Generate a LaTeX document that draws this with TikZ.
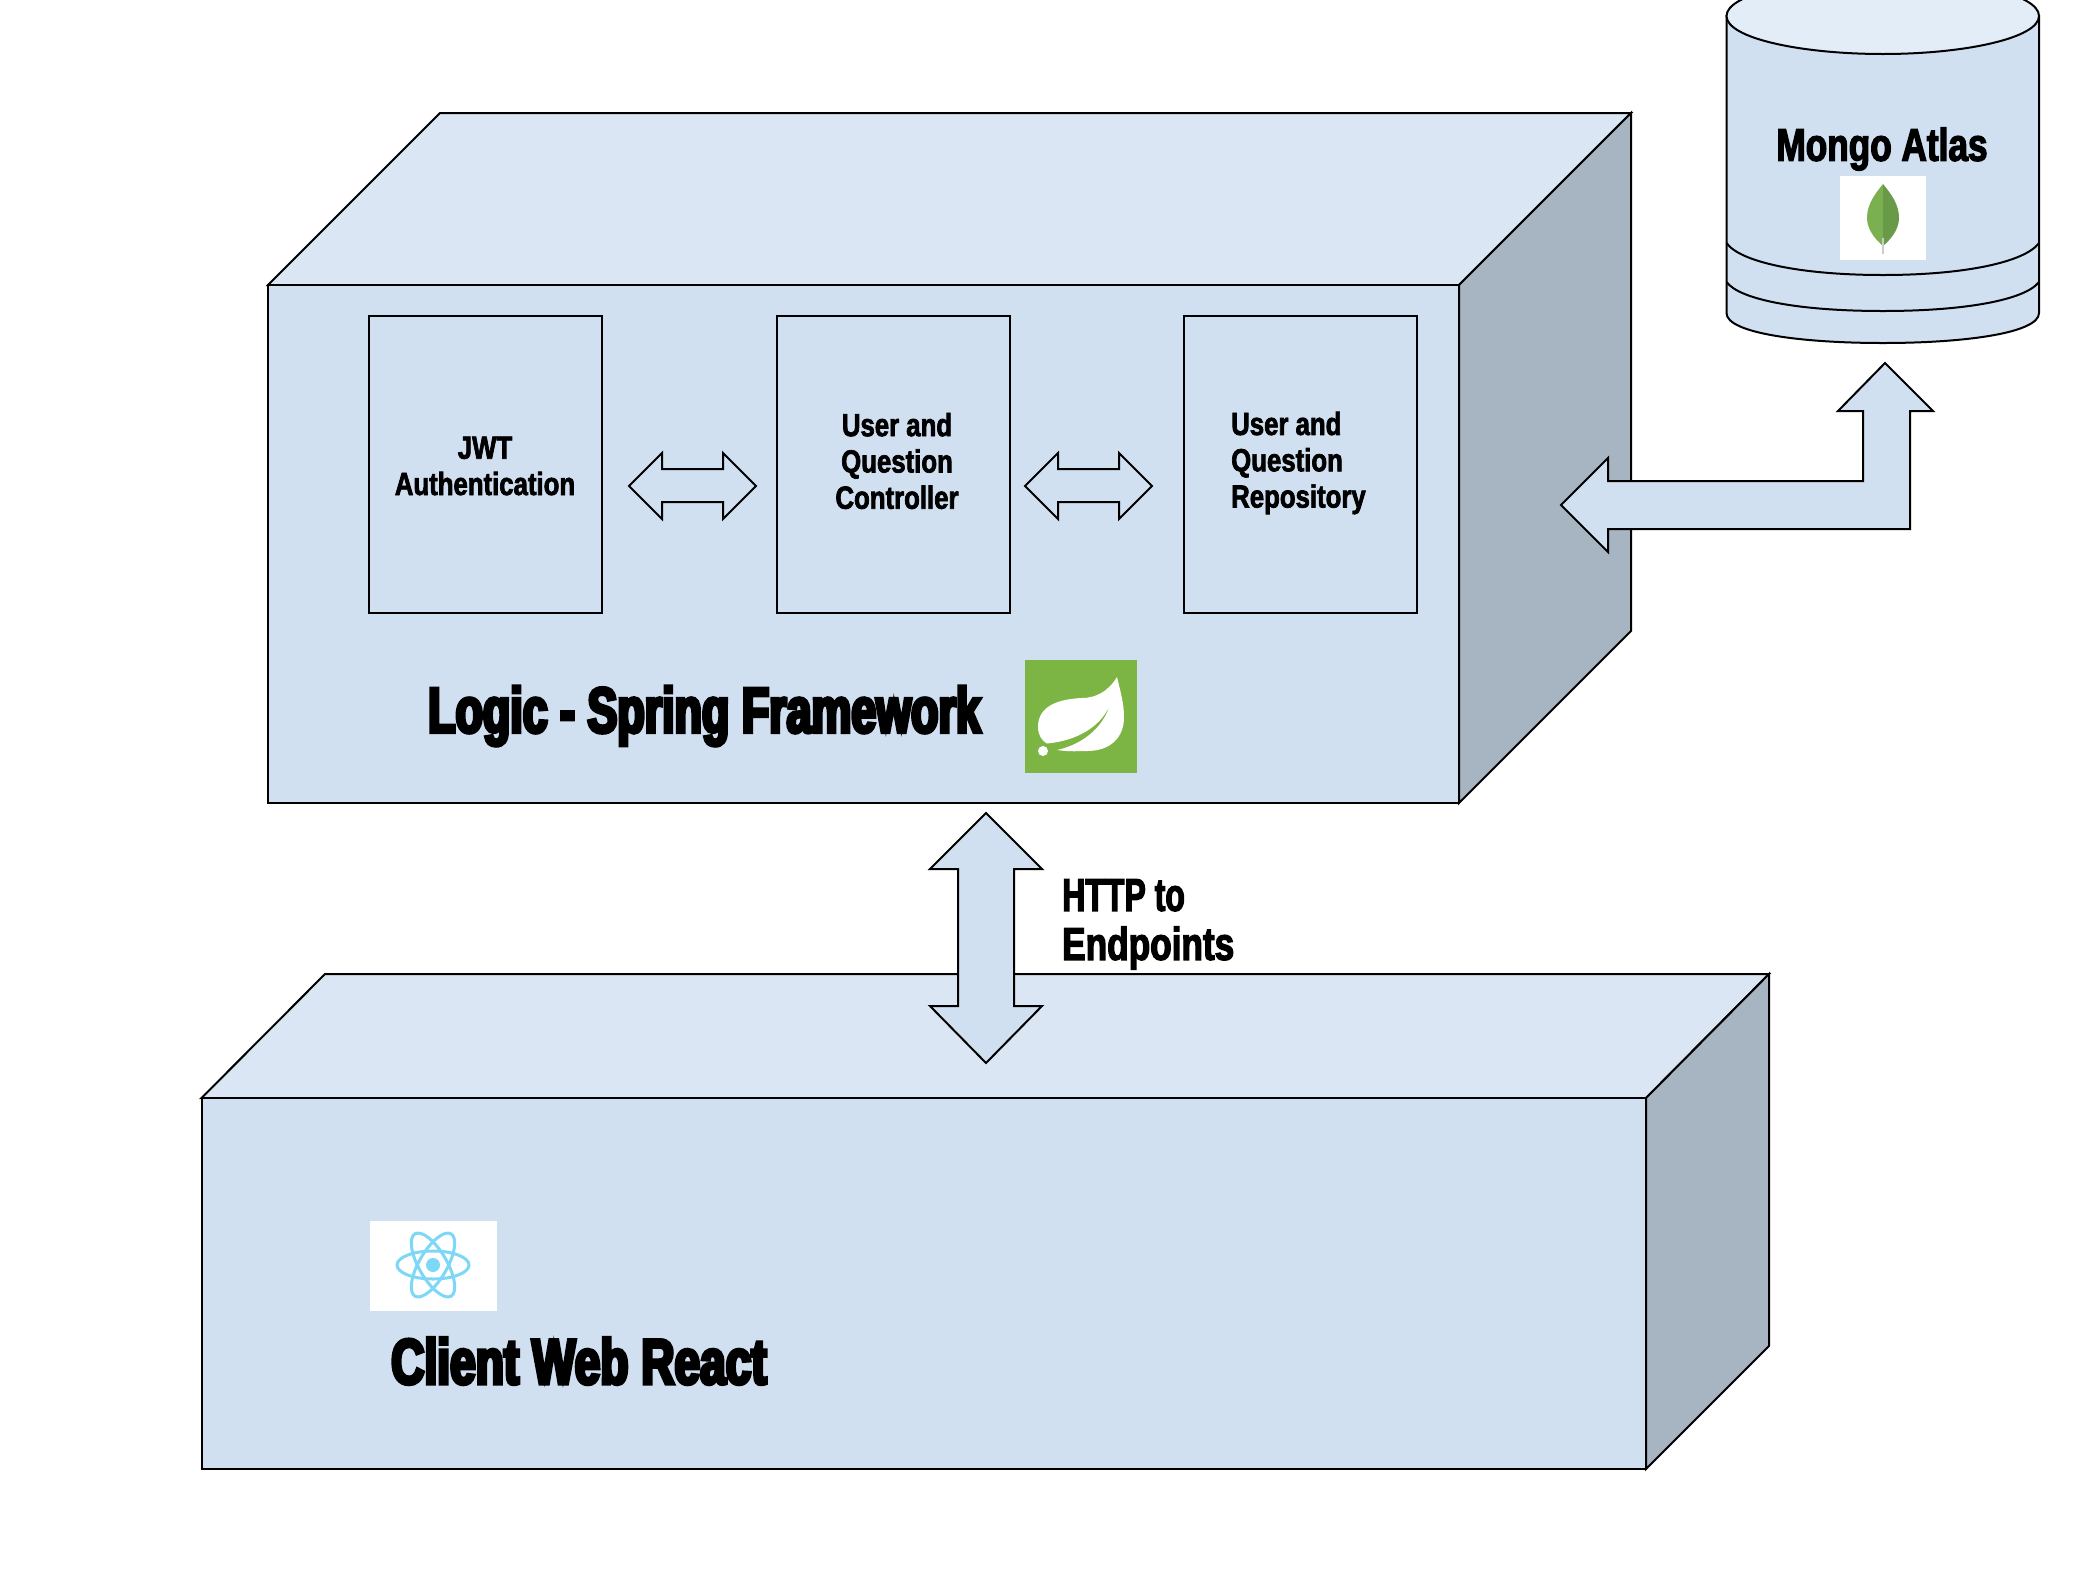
\documentclass[tikz,border=0pt]{standalone}
\usepackage{fontspec}
\setmainfont{Liberation Sans}
\newfontfamily\impS[UprightFont={* Bold},FakeStretch=0.805,FakeBold=2.2]{Liberation Sans}
\newfontfamily\impM[UprightFont={* Bold},FakeStretch=0.765,FakeBold=2.8]{Liberation Sans}
\newfontfamily\impL[UprightFont={* Bold},FakeStretch=0.72,FakeBold=5.5]{Liberation Sans}
\newfontfamily\impX[UprightFont={* Bold},FakeStretch=0.70,FakeBold=5.5]{Liberation Sans}
\definecolor{boxfront}{HTML}{D1E0F1}
\definecolor{boxtop}{HTML}{DAE6F3}
\definecolor{boxside}{HTML}{A7B4C2}
\definecolor{cyltop}{HTML}{E3EDF7}
\definecolor{springgreen}{HTML}{7DB544}
\definecolor{leafa}{HTML}{7BB051}
\definecolor{leafb}{HTML}{689A47}
\definecolor{reactblue}{HTML}{7DD8F7}
\tikzset{
  x=1pt,y=-1pt,
  outl/.style={draw=black,line width=2pt,line join=miter},
  front/.style={outl,fill=boxfront},
  topface/.style={outl,fill=boxtop},
  sideface/.style={outl,fill=boxside},
  panel/.style={front,rectangle,inner sep=0pt},
  small/.style={font=\impS\fontsize{32}{36.3}\selectfont,text=black,inner sep=0pt,align=center},
  smallleft/.style={small,align=left,anchor=west},
  medium/.style={font=\impM\fontsize{46}{49}\selectfont,text=black,inner sep=0pt,align=left},
  large/.style={font=\impL\fontsize{64}{70}\selectfont,text=black,inner sep=0pt,anchor=west},
  largex/.style={large,font=\impX\fontsize{64}{70}\selectfont},
}
\begin{document}
\begin{tikzpicture}
\path[use as bounding box] (0,0) rectangle (2078,1572);
\fill[white] (0,0) rectangle (2078,1572);
\clip (0,0) rectangle (2078,1572);

% Client box
\draw[topface] (201.5,1098) -- (325,974) -- (1769,974) -- (1646,1098) -- cycle;
\draw[sideface] (1646,1098) -- (1769,974) -- (1769,1346) -- (1646,1469) -- cycle;
\node[panel,minimum width=1444.5pt,minimum height=371pt] (client) at (923.75,1283.5) {};

% Logic box
\draw[topface] (268,285) -- (440,113) -- (1631,113) -- (1459,285) -- cycle;
\draw[sideface] (1459,285) -- (1631,113) -- (1631,631) -- (1459,803) -- cycle;
\node[panel,minimum width=1191pt,minimum height=518pt] (logic) at (863.5,544) {};

% Inner boxes
\node[panel,minimum width=233pt,minimum height=297pt] (jwt) at (485.5,464.5) {};
\node[panel,minimum width=233pt,minimum height=297pt] (ctrl) at (893.5,464.5) {};
\node[panel,minimum width=233pt,minimum height=297pt] (repo) at (1300.5,464.5) {};
\node[small] (jwttxt) at (485,466) {JWT\\Authentication};
\node[small] (ctrltxt) at (897,461) {User and\\Question\\Controller};
\node[smallleft] (repotxt) at (1231,463) {User and\\Question\\Repository};

% Double arrows between inner boxes
\draw[front] (629,486) -- (662,453) -- (662,469) -- (723,469) -- (723,453) -- (756,486)
  -- (723,519) -- (723,502) -- (662,502) -- (662,519) -- cycle;
\draw[front] (1025,486) -- (1058,453) -- (1058,469) -- (1119,469) -- (1119,453) -- (1152,486)
  -- (1119,519) -- (1119,502) -- (1058,502) -- (1058,519) -- cycle;

% Vertical double arrow
\draw[front] (986,813) -- (1042,869) -- (1014,869) -- (1014,1006) -- (1042,1006) -- (986,1063)
  -- (930,1006) -- (958,1006) -- (958,869) -- (930,869) -- cycle;

% Bent arrow
\draw[front] (1561,505) -- (1608,458) -- (1608,481) -- (1863,481) -- (1863,411) -- (1838,411)
  -- (1885,363) -- (1933,411) -- (1910,411) -- (1910,529) -- (1608,529) -- (1608,552) -- cycle;

% Cylinder
\draw[front] (1726.5,16) -- (1726.5,313) .. controls (1726.5,333) and (1800,343) .. (1883,343)
  .. controls (1965,343) and (2039,333) .. (2039,313) -- (2039,16) -- cycle;
\draw[outl,fill=cyltop] (1726.5,16) .. controls (1726.5,38) and (1800,54) .. (1883,54)
  .. controls (1965,54) and (2039,38) .. (2039,16)
  .. controls (2039,-6) and (1965,-22) .. (1883,-22)
  .. controls (1800,-22) and (1726.5,-6) .. (1726.5,16) -- cycle;
\draw[outl] (1726.5,243) .. controls (1740,262) and (1800,275) .. (1883,275)
  .. controls (1965,275) and (2025,262) .. (2039,243);
\draw[outl] (1726.5,282) .. controls (1740,300) and (1800,311) .. (1883,311)
  .. controls (1965,311) and (2025,300) .. (2039,282);
\node[medium,align=center] (mongotxt) at (1882,149) {Mongo Atlas};

% Mongo logo
\fill[white] (1840,176) rectangle (1926,260);
\fill[leafa] (1883,184) .. controls (1875,194) and (1867,204) .. (1867,218)
  .. controls (1867,230) and (1876,240) .. (1883,246) -- cycle;
\fill[leafb] (1883,184) .. controls (1891,194) and (1899,204) .. (1899,218)
  .. controls (1899,230) and (1890,240) .. (1883,246) -- cycle;
\draw[color=black!20,line width=2pt] (1883,238) -- (1883,254);

% Logic label + spring logo
\node[largex] (logictxt) at (428,716) {Logic - Spring Framework};
\fill[springgreen] (1025,660) rectangle (1137,773);
\fill[white] (1117,677) .. controls (1108,692) and (1095,698) .. (1082,698)
  .. controls (1060,699) and (1038,705) .. (1038,727)
  .. controls (1038,735) and (1042,741) .. (1047,743.5)
  .. controls (1075,741) and (1100,728) .. (1110,705)
  .. controls (1102,730) and (1080,745) .. (1057,750)
  .. controls (1070,752) and (1080,751) .. (1087,751)
  .. controls (1110,751) and (1124,738) .. (1124,717)
  .. controls (1124,703) and (1120,690) .. (1117,677) -- cycle;
\fill[white] (1043,751) circle[radius=5];

% HTTP label
\node[medium,anchor=north west] (httptxt) at (1062,879) {\scalebox{0.91}[1]{HTTP to}\\Endpoints};

% React logo + label
\fill[white] (370,1221) rectangle (497,1311);
\begin{scope}[shift={(433,1265)}]
  \draw[reactblue,line width=3pt] (0,0) ellipse[x radius=36,y radius=14];
  \draw[reactblue,line width=3pt,rotate=60] (0,0) ellipse[x radius=36,y radius=14];
  \draw[reactblue,line width=3pt,rotate=120] (0,0) ellipse[x radius=36,y radius=14];
  \fill[reactblue] (0,0) circle[radius=7];
\end{scope}
\node[large] (clienttxt) at (391,1361) {Client Web React};
\end{tikzpicture}
\end{document}
